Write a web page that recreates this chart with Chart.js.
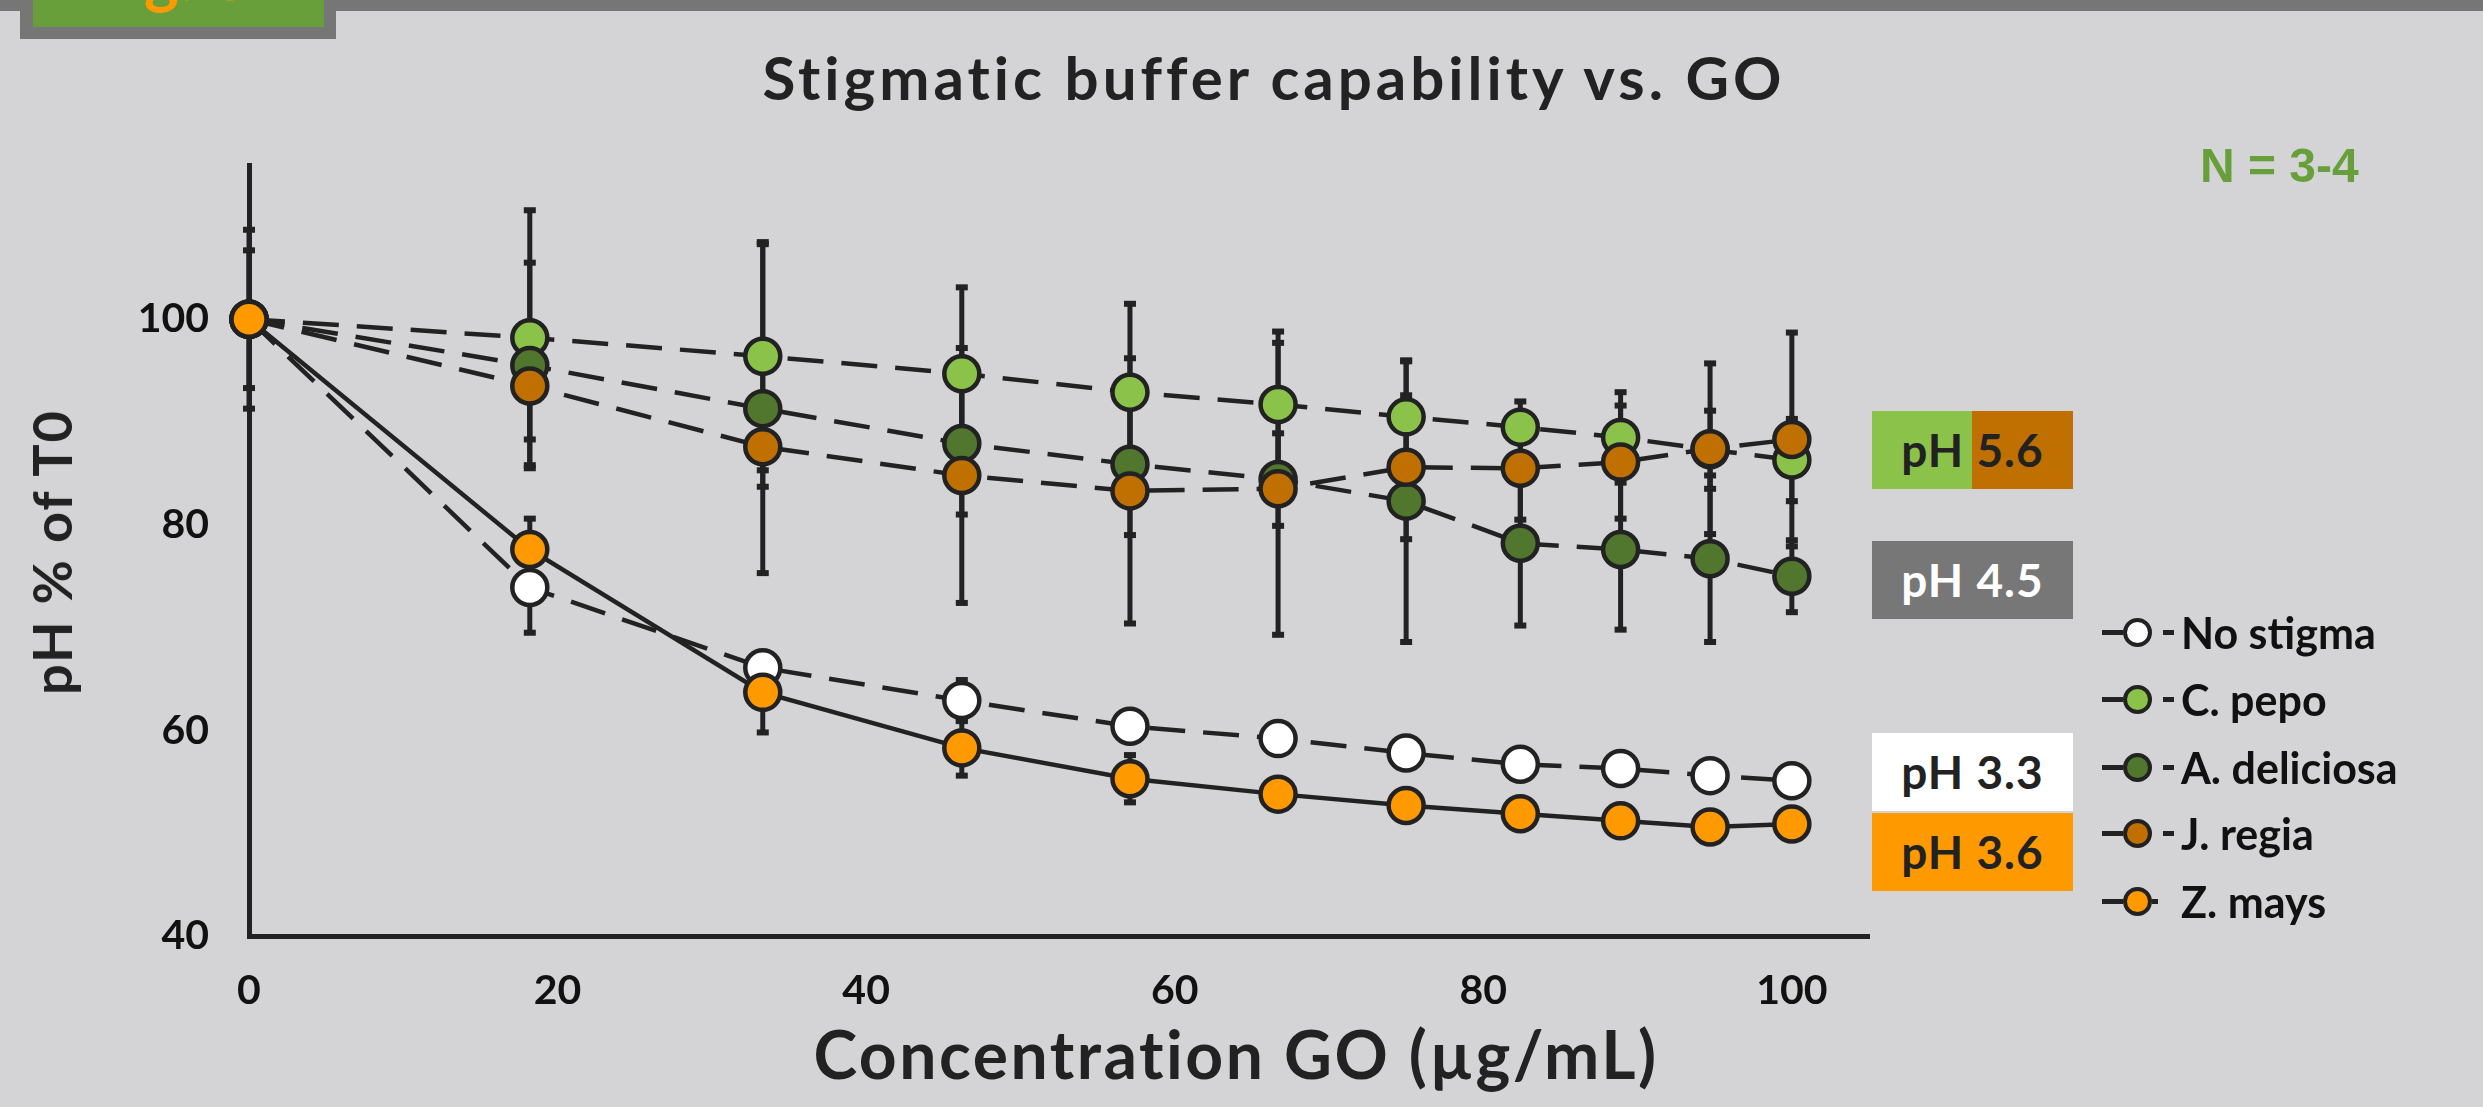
<!DOCTYPE html>
<html>
<head>
<meta charset="utf-8">
<title>Stigmatic buffer capability vs. GO</title>
<script src="https://cdn.jsdelivr.net/npm/chart.js@4.4.1/dist/chart.umd.min.js"></script>
<style>
  html, body { margin: 0; padding: 0; }
  body {
    width: 2483px; height: 1107px; position: relative; overflow: hidden;
    background: #d4d4d6; font-family: Lato, sans-serif; font-weight: 700; color: #222;
  }
  .abs { position: absolute; white-space: nowrap; line-height: 1; }
  #wrap { position: absolute; left: 0; top: 0; width: 2483px; height: 1107px; }
  #band { left: 0; top: 0; width: 2483px; height: 11px; background: #767676; }
  #figbox { left: 20px; top: 0; width: 316px; height: 39px; background: #767676; }
  #figin { left: 13px; top: 0; width: 291px; height: 27px; background: #689f3a; overflow: hidden; }
  #figtxt { left: 57px; top: -58px; font-size: 66px; color: #ff9900; }
  #title { left: 1274px; top: 47px; font-size: 60px; letter-spacing: 4px; transform: translateX(-50%); }
  #xtitle { left: 1236px; top: 1021px; font-size: 66px; letter-spacing: 2.5px; transform: translateX(-50%); }
  #ytitle { left: 52px; top: 552px; font-size: 54px; letter-spacing: 2px; transform: translate(-50%, -50%) rotate(-90deg); }
  #nlabel { left: 2200px; top: 142px; font-family: "Liberation Sans", Arial, sans-serif; font-size: 48px; color: #67a03a; }
  .ph { position: absolute; width: 201px; height: 78px; line-height: 78px; text-align: center; font-size: 46px; letter-spacing: 1px; white-space: nowrap; }
  .leg { position: absolute; left: 2102px; height: 42px; display: flex; align-items: center; font-size: 43px; color: #111; }
  .leg .ln { height: 5px; background: #222; }
  .leg .mk { width: 29px; height: 29px; box-sizing: border-box; border: 4.5px solid #222; border-radius: 50%; }
</style>
</head>
<body>
<div id="wrap"><canvas id="myChart"></canvas></div>

<div class="abs" id="band"></div>
<div class="abs" id="figbox"><div class="abs" id="figin"><div class="abs" id="figtxt">Fig. 6</div></div></div>
<div class="abs" id="title">Stigmatic buffer capability vs. GO</div>
<div class="abs" id="xtitle">Concentration GO (µg/mL)</div>
<div class="abs" id="ytitle">pH % of T0</div>
<div class="abs" id="nlabel">N = 3-4</div>

<div class="ph" style="left:1872px; top:411px; background:linear-gradient(to right, #8bc34a 50%, #bf7000 50%);">pH 5.6</div>
<div class="ph" style="left:1872px; top:541px; background:#777777; color:#ffffff;">pH 4.5</div>
<div class="ph" style="left:1872px; top:733px; background:#ffffff;">pH 3.3</div>
<div class="ph" style="left:1872px; top:813px; background:#ff9900;">pH 3.6</div>

<div id="legend"></div>

<script>
// GO concentrations (µg/mL)
var concentrations = [0, 18.2, 33.3, 46.2, 57.1, 66.7, 75, 82.4, 88.9, 94.7, 100];

// pH as % of T0, mean and error for each stigma
var noStigma      = [100, 73.9, 66.1, 62.9, 60.4, 59.2, 57.8, 56.7, 56.3, 55.6, 55.1];
var noStigmaErr   = [8.7, 4.4, 1.5, 2.0, 1.0, 0.8, 0.8, 0.8, 0.8, 0.8, 0.8];
var cPepo         = [100, 98.2, 96.4, 94.7, 92.9, 91.7, 90.5, 89.5, 88.5, 87.3, 86.3];
var cPepoErr      = [0, 12.4, 11.1, 8.4, 8.6, 7.1, 5.4, 2.5, 4.4, 3.8, 4.0];
var aDeliciosa    = [100, 95.5, 91.3, 87.9, 85.9, 84.4, 82.3, 78.2, 77.6, 76.7, 75.0];
var aDeliciosaErr = [0, 10.0, 16.0, 6.9, 6.9, 4.5, 13.7, 8.0, 7.8, 8.1, 3.5];
var jRegia        = [100, 93.5, 87.6, 84.8, 83.3, 83.5, 85.6, 85.5, 86.1, 87.4, 88.3];
var jRegiaErr     = [0, 5.2, 3.9, 12.4, 12.9, 14.2, 7.0, 5.0, 5.5, 8.3, 10.4];
var zMays         = [100, 77.6, 63.7, 58.3, 55.3, 53.8, 52.7, 51.9, 51.2, 50.6, 50.9];
var zMaysErr      = [6.7, 3.0, 3.9, 2.7, 2.3, 1.0, 1.0, 1.0, 1.0, 1.0, 0.8];

var seriesNames = ["No stigma", "C. pepo", "A. deliciosa", "J. regia", "Z. mays"];
var xTicks = [0, 20, 40, 60, 80, 100];
var yTicks = [40, 60, 80, 100];

var fills = ["#ffffff", "#8bc34a", "#50772d", "#bf7000", "#ff9900"];
var dashed = [true, true, true, true, false];
var means = [noStigma, cPepo, aDeliciosa, jRegia, zMays];
var errs = [noStigmaErr, cPepoErr, aDeliciosaErr, jRegiaErr, zMaysErr];

function points(vals) {
	return vals.map(function(v, i) { return { x: concentrations[i], y: v }; });
}

var datasets = seriesNames.map(function(name, k) {
	return {
		label: name,
		data: points(means[k]),
		errors: errs[k],
		order: seriesNames.length - k,
		borderColor: "#222",
		borderWidth: 4.5,
		borderDash: dashed[k] ? [36, 18] : [],
		pointRadius: 17.5,
		pointHoverRadius: 17.5,
		pointBorderWidth: 4.5,
		pointBorderColor: "#222",
		pointBackgroundColor: fills[k],
		tension: 0,
		clip: false
	};
});

// vertical error bars with small caps, under the markers
var errorBars = {
	id: "errorBars",
	beforeDatasetsDraw: function(chart) {
		var ctx = chart.ctx, xs = chart.scales.x, ys = chart.scales.y;
		ctx.save();
		ctx.strokeStyle = "#222";
		ctx.fillStyle = "#222";
		ctx.lineWidth = 5;
		chart.data.datasets.forEach(function(ds) {
			ds.data.forEach(function(p, i) {
				var e = ds.errors[i];
				if (!e) return;
				var px = xs.getPixelForValue(p.x);
				var top = ys.getPixelForValue(p.y + e);
				var bot = ys.getPixelForValue(p.y - e);
				ctx.beginPath();
				ctx.moveTo(px, top);
				ctx.lineTo(px, bot);
				ctx.stroke();
				ctx.fillRect(px - 6, top - 3, 12, 6);
				ctx.fillRect(px - 6, bot - 3, 12, 6);
			});
		});
		ctx.restore();
	}
};

Chart.defaults.font.family = "Lato";
Chart.defaults.font.weight = "bold";
Chart.defaults.color = "#111";

var ctx = document.getElementById("myChart");
var chart = new Chart(ctx, {
	type: "line",
	data: { datasets: datasets },
	options: {
		responsive: true,
		maintainAspectRatio: false,
		devicePixelRatio: 1,
		animation: false,
		events: [],
		layout: { padding: { top: 165, right: 614, bottom: 0, left: 0 } },
		plugins: { legend: { display: false }, tooltip: { enabled: false } },
		scales: {
			x: {
				type: "linear",
				min: 0,
				max: 105,
				grid: { display: false, drawTicks: false },
				border: { display: true, color: "#222", width: 5 },
				ticks: { font: { size: 41 }, padding: 30, maxRotation: 0 },
				afterBuildTicks: function(s) { s.ticks = xTicks.map(function(v) { return { value: v }; }); },
				afterFit: function(s) { s.height = 171; }
			},
			y: {
				type: "linear",
				min: 40,
				max: 115,
				grid: { display: false, drawTicks: false },
				border: { display: true, color: "#222", width: 5 },
				ticks: { font: { size: 41 }, padding: 40 },
				afterBuildTicks: function(s) { s.ticks = yTicks.map(function(v) { return { value: v }; }); },
				afterFit: function(s) { s.width = 249; }
			}
		}
	},
	plugins: [errorBars]
});

// legend: line - marker - dash, then the name
var legendTops = [611, 678, 746, 812, 880];
var legend = document.getElementById("legend");
seriesNames.forEach(function(name, k) {
	var row = document.createElement("div");
	row.className = "leg";
	row.style.top = legendTops[k] + "px";
	var right = dashed[k]
		? '<div style="width:11px"></div><div class="ln" style="width:11px"></div><div style="width:7px"></div>'
		: '<div class="ln" style="width:6px"></div><div style="width:23px"></div>';
	row.innerHTML = '<div class="ln" style="width:21px"></div>' +
		'<div class="mk" style="background:' + fills[k] + '"></div>' + right +
		'<span>' + name + '</span>';
	legend.appendChild(row);
});
</script>
</body>
</html>
